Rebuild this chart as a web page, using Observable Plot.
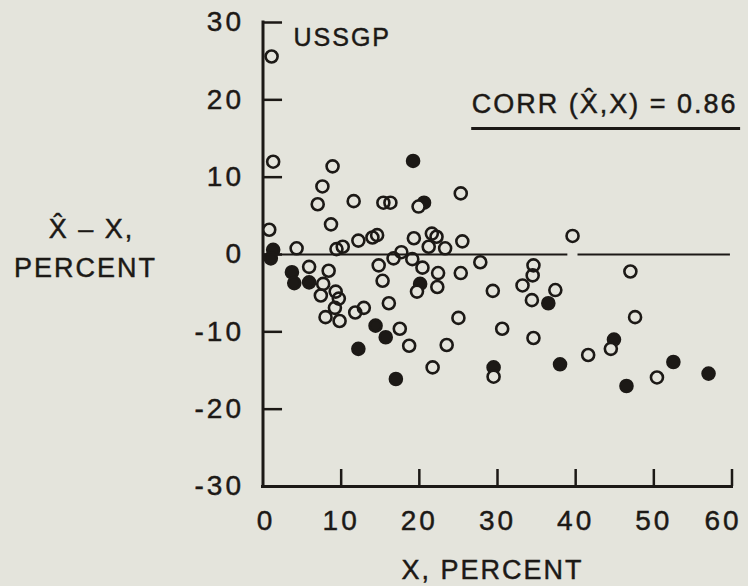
<!DOCTYPE html>
<html><head><meta charset="utf-8">
<script src="https://cdn.jsdelivr.net/npm/d3@7"></script>
<script src="https://cdn.jsdelivr.net/npm/@observablehq/plot@0.6"></script>
<style>
html,body{margin:0;padding:0;background:#e4e4dc;overflow:hidden;}
</style></head><body><div id="chart"></div>
<script>
// Open circles
const openX = [1.1,1.3,8.9,7.6,7.0,11.6,15.4,16.3,19.9,25.3,8.7,0.8,12.2,14.0,14.6,19.3,21.6,22.2,23.3,25.5,
  4.3,9.4,10.2,21.2,17.7,16.7,19.1,27.8,14.8,15.3,20.4,22.4,25.3,19.7,22.3,29.4,5.9,8.4,7.7,7.4,
  9.3,9.7,9.2,8.0,9.8,11.8,12.9,16.1,17.5,18.7,21.7,23.5,25.0,29.5,39.6,34.6,34.5,33.2,37.4,34.4,
  47.0,47.6,30.6,34.6,44.5,41.6,50.4];
const openY = [25.6,12.0,11.4,8.8,6.5,6.9,6.7,6.7,6.2,7.9,3.9,3.2,1.8,2.2,2.5,2.1,2.7,2.3,0.8,1.7,
  0.8,0.7,1.0,1.0,0.3,-0.5,-0.6,-1.0,-1.4,-3.4,-1.7,-2.4,-2.4,-4.8,-4.2,-4.7,-1.6,-2.1,-3.8,-5.3,
  -4.8,-5.7,-6.9,-8.1,-8.6,-7.5,-6.9,-6.3,-9.6,-11.8,-14.6,-11.7,-8.2,-15.8,2.4,-1.4,-2.7,-4.0,-4.6,-5.9,
  -2.2,-8.1,-9.6,-10.8,-12.2,-13.0,-15.9];
// Filled circles
const filledX = [19.2,20.6,1.3,1.0,3.7,4.0,5.9,20.1,14.4,15.7,12.2,17.0,29.5,36.5,44.9,38.0,52.5,57.0,46.5];
const filledY = [12.1,6.7,0.6,-0.5,-2.3,-3.7,-3.6,-3.8,-9.2,-10.7,-12.2,-16.1,-14.6,-6.3,-11.0,-14.2,-13.9,-15.4,-17.0];

const xTicks = [0,10,20,30,40,50,60];
const yTicks = [-30,-20,-10,0,10,20,30];
const zeroStart = [0, 40.3];
const zeroEnd = [39.0, 59.8];

const titleText = "USSGP";
const corrText = "CORR (X\u0302,X) = 0.86";
const xLabel = "X, PERCENT";
const yLabel1 = "X\u0302 \u2013 X,";
const yLabel2 = "PERCENT";

const openPts = openX.map((x, i) => ({x, y: openY[i]}));
const filledPts = filledX.map((x, i) => ({x, y: filledY[i]}));
const zeroSegs = zeroStart.map((s, i) => ({x1: s, x2: zeroEnd[i]}));

const ink = "#1c1916", bg = "#e4e4dc";

const plot = Plot.plot({
  width: 748, height: 586,
  marginLeft: 262.5, marginRight: 16.5, marginTop: 22, marginBottom: 100,
  x: {domain: [0, 60]},
  y: {domain: [-30, 30]},
  style: {background: bg, color: ink, fontFamily: "'Liberation Sans', Arial, sans-serif", fontSize: "27px", overflow: "visible", letterSpacing: "2px"},
  marks: [
    Plot.axisY({ticks: yTicks, tickSize: 0, tickPadding: 19, tickFormat: d => String(d), fontSize: 28, label: null, fill: ink}),
    Plot.axisX({ticks: xTicks, tickSize: 0, tickPadding: 24, tickFormat: d => String(d), fontSize: 28, label: null, fill: ink}),
    Plot.ruleY(yTicks.filter(d => d > -30), {y: d => d, x1: 0, x2: 2.5, stroke: ink, strokeWidth: 2.5}),
    Plot.ruleX(xTicks.filter(d => d > 0), {x: d => d, y1: -30, y2: -27.8, stroke: ink, strokeWidth: 2.5}),
    Plot.ruleX([0], {y1: -30, y2: 30, stroke: ink, strokeWidth: 3, strokeLinecap: "square"}),
    Plot.ruleY([-30], {x1: 0, x2: 60, stroke: ink, strokeWidth: 3, strokeLinecap: "square"}),
    Plot.dot(filledPts, {x: "x", y: "y", r: 6, fill: ink, stroke: ink, strokeWidth: 2.6}),
    Plot.dot(openPts, {x: "x", y: "y", r: 6.4, fill: bg, stroke: "none"}),
    Plot.ruleY(zeroSegs, {y: 0, x1: "x1", x2: "x2", stroke: ink, strokeWidth: 1.8}),
    Plot.dot(openPts, {x: "x", y: "y", r: 6, fill: "none", stroke: ink, strokeWidth: 2.6}),
    Plot.text([titleText], {x: 3.9, y: 26.9, text: d => d, textAnchor: "start", lineAnchor: "bottom", fontSize: 25, fill: ink}),
    Plot.text([corrText], {x: 26.7, y: 18.36, text: d => d, textAnchor: "start", lineAnchor: "bottom", fill: ink}),
    Plot.ruleY([16.3], {x1: 26.7, x2: 61.1, stroke: ink, strokeWidth: 3}),
    Plot.text([xLabel], {frameAnchor: "bottom", dx: -5, dy: 92, text: d => d, lineAnchor: "bottom", textAnchor: "middle", fill: ink}),
    Plot.text([yLabel1], {frameAnchor: "left", dx: -171.5, dy: -16.7, text: d => d, lineAnchor: "bottom", textAnchor: "middle", fill: ink}),
    Plot.text([yLabel2], {frameAnchor: "left", dx: -177.5, dy: 22.7, text: d => d, lineAnchor: "bottom", textAnchor: "middle", fill: ink})
  ]
});
const svg = d3.select(plot);
svg.selectAll('g[aria-label="y-axis tick label"], g[aria-label="x-axis tick label"]').attr("letter-spacing", "3px");
// nudge end labels inward as in the reference
svg.selectAll('g[aria-label="x-axis tick label"] text').each(function() {
  const t = this.textContent;
  if (t === "60") d3.select(this).attr("dx", -9);
  if (t === "0") d3.select(this).attr("dx", 3);
});
// slightly heavier glyphs, like the printed original
svg.selectAll("text").attr("stroke", ink).attr("stroke-width", 0.45);
document.getElementById("chart").appendChild(plot);
</script>
</body></html>
